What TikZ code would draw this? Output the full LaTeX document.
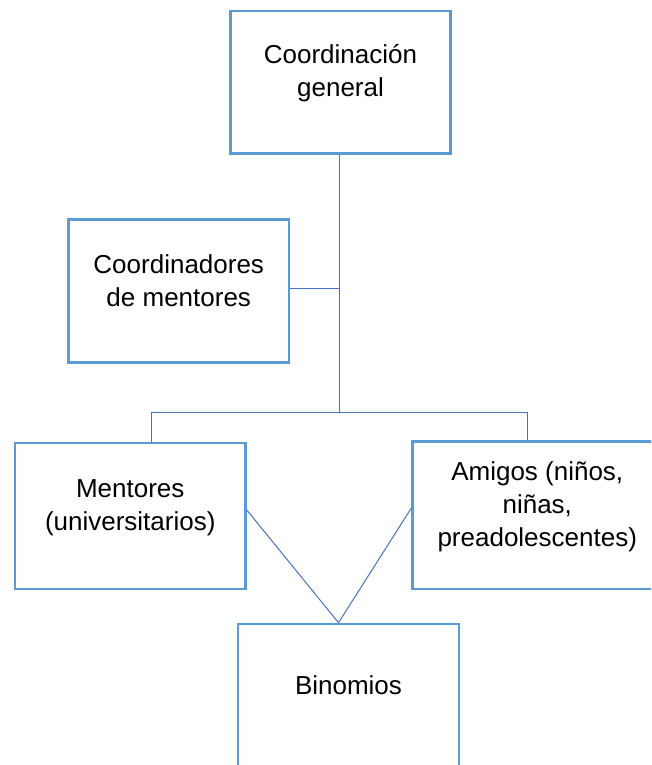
\documentclass[tikz,border=0pt]{standalone}
\usepackage{fontspec}
\setmainfont{Liberation Sans}
\definecolor{boxblue}{HTML}{5B9BD5}
\definecolor{linkblue}{HTML}{4472C4}
\begin{document}
\begin{tikzpicture}[x=1pt,y=-1pt,
  box/.style={draw=boxblue, line width=2.6pt, rectangle, inner sep=0pt, fill=white},
  lbl/.style={anchor=base, inner sep=0pt, font=\fontsize{26}{33}\selectfont, text=black},
  link/.style={draw=linkblue, line width=1pt}]
\useasboundingbox (0,0) rectangle (651,765);
\clip (0,0) rectangle (651,765);
% boxes
\node[box, minimum width=220pt, minimum height=142.5pt] (gen) at (340.5,82.25) {};
\node[box, minimum width=220.5pt, minimum height=143pt] (coo) at (178.75,291) {};
\node[box, minimum width=230.5pt, minimum height=146pt] (men) at (130.25,516) {};
\node[box, minimum width=249.5pt, minimum height=147.5pt] (ami) at (537.25,515.25) {};
\node[box, minimum width=221pt, minimum height=144pt] (bin) at (348.5,696) {};
% texts
\node[lbl] (gen1) at (340.5,64) {Coordinación};
\node[lbl] (gen2) at (340.5,97) {general};
\node[lbl] (coo1) at (178.75,273) {Coordinadores};
\node[lbl] (coo2) at (178.75,306) {de mentores};
\node[lbl] (men1) at (130.25,497) {Mentores};
\node[lbl] (men2) at (130.25,530) {(universitarios)};
\node[lbl] (ami1) at (537.25,480) {Amigos (niños,};
\node[lbl] (ami2) at (537.25,513) {niñas,};
\node[lbl] (ami3) at (537.25,546) {preadolescentes)};
\node[lbl] (bin1) at (348.5,694) {Binomios};
% connectors
\coordinate (hub) at (339.5,412.5);
\coordinate (cooj) at (339.5,288.5);
\coordinate (lft) at (151.5,412.5);
\coordinate (rgt) at (527.5,412.5);
\draw[link] (hub |- gen.south) -- (hub);
\draw[link] (cooj -| coo.east) -- (cooj);
\draw[link] (lft |- men.north) -- (lft) -- (rgt) -- (rgt |- ami.north);
\coordinate (meet) at ([xshift=-10pt]bin.north);
\draw[link] ([yshift=6pt]men.east) -- (meet);
\draw[link] ([yshift=7pt]ami.west) -- (meet);
\end{tikzpicture}
\end{document}
